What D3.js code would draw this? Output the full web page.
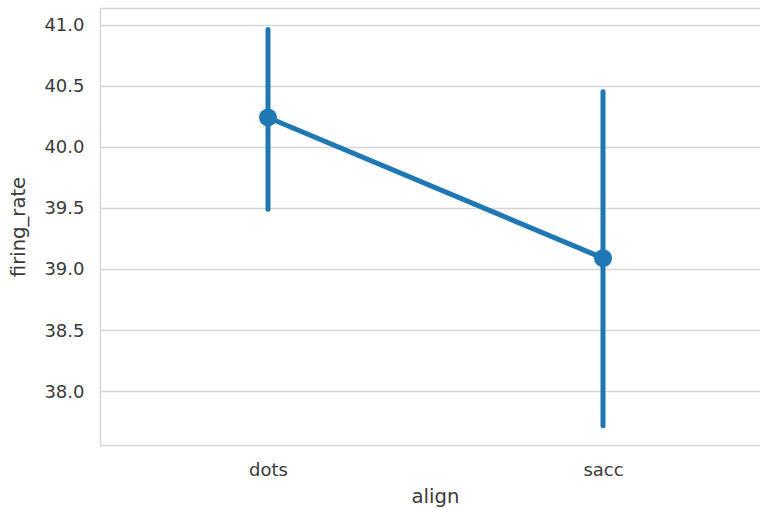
<!DOCTYPE html>
<html><head><meta charset="utf-8">
<script src="https://cdn.jsdelivr.net/npm/d3@7"></script>
<style>body{margin:0;background:#fff;} svg{display:block;}</style>
</head><body>
<svg id="chart" width="760" height="508"></svg>
<script>
const categories = ["dots", "sacc"];
const means = [40.24, 39.09];
const ciLow = [39.49, 37.72];
const ciHigh = [40.96, 40.45];
const yTicks = [38.0, 38.5, 39.0, 39.5, 40.0, 40.5, 41.0];

(function () {
const svg = d3.select("#chart");
const pL = 100.5, pR = 770.5, pT = 8.5, pB = 445.5;
const x = d3.scaleLinear().domain([-0.5, categories.length - 0.5]).range([pL, pR]);
const y = d3.scaleLinear().domain([37.558, 41.131]).range([pB, pT]);
const font = "DejaVu Sans, sans-serif";
const color = "#1f77b4";

// grid
svg.append("g").selectAll("line").data(yTicks).join("line")
  .attr("x1", pL).attr("x2", pR)
  .attr("y1", d => Math.round(y(d)) + 0.5).attr("y2", d => Math.round(y(d)) + 0.5)
  .attr("stroke", "#d5d5d5").attr("stroke-width", 1.5);

// spines
svg.append("rect").attr("x", pL).attr("y", pT).attr("width", pR - pL).attr("height", pB - pT)
  .attr("fill", "none").attr("stroke", "#d5d5d5").attr("stroke-width", 1.5);

// y tick labels
const yAxis = d3.axisLeft(y).tickValues(yTicks).tickFormat(d3.format(".1f")).tickSize(0).tickPadding(16);
const gy = svg.append("g").attr("transform", `translate(${pL},0)`).call(yAxis);
gy.select(".domain").remove();
gy.selectAll("text").attr("font-family", font).attr("font-size", 18).attr("fill", "#3a3a3a");

// x tick labels
const xAxis = d3.axisBottom(x).tickValues(categories.map((c, i) => i)).tickFormat(i => categories[i]).tickSize(0).tickPadding(18);
const gx = svg.append("g").attr("transform", `translate(0,${pB})`).call(xAxis);
gx.select(".domain").remove();
gx.selectAll("text").attr("font-family", font).attr("font-size", 18).attr("fill", "#3a3a3a");

// axis labels
svg.append("text").attr("x", x(0.5)).attr("y", 503).attr("text-anchor", "middle")
  .attr("font-family", font).attr("font-size", 19.6).attr("fill", "#3a3a3a").text("align");
svg.append("text").attr("transform", `translate(25,${(pT + pB) / 2}) rotate(-90)`).attr("text-anchor", "middle")
  .attr("font-family", font).attr("font-size", 19.6).attr("fill", "#3a3a3a").text("firing_rate");

// error bars
svg.append("g").selectAll("line").data(categories).join("line")
  .attr("x1", (d, i) => x(i)).attr("x2", (d, i) => x(i))
  .attr("y1", (d, i) => y(ciLow[i])).attr("y2", (d, i) => y(ciHigh[i]))
  .attr("stroke", color).attr("stroke-width", 5).attr("stroke-linecap", "round");

// line
const line = d3.line().x((d, i) => x(i)).y(d => y(d));
svg.append("path").datum(means).attr("d", line)
  .attr("fill", "none").attr("stroke", color).attr("stroke-width", 5).attr("stroke-linecap", "round");

// points
svg.append("g").selectAll("circle").data(means).join("circle")
  .attr("cx", (d, i) => x(i)).attr("cy", d => y(d)).attr("r", 9)
  .attr("fill", color);
})();
</script>
</body></html>
